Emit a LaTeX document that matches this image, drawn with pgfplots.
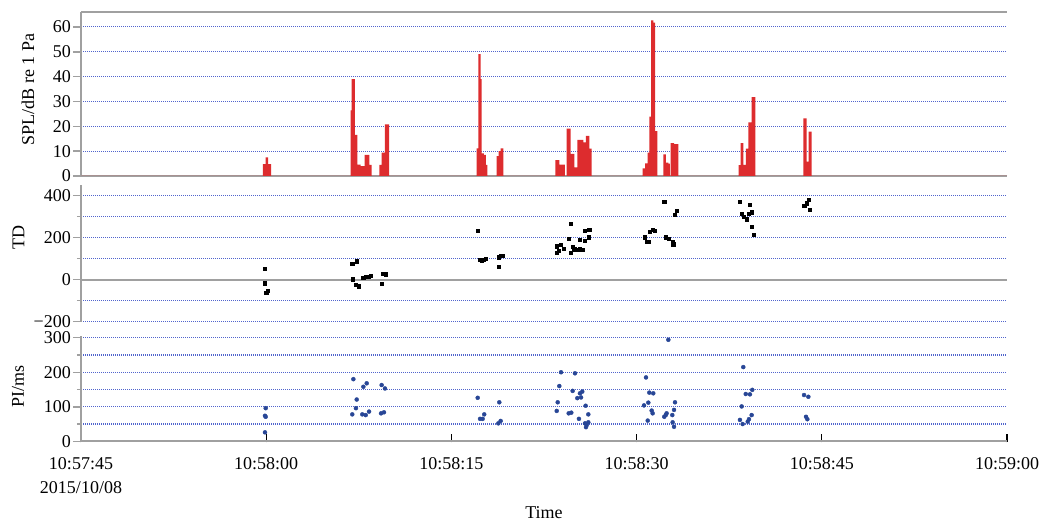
\documentclass[border=0pt]{standalone}
\usepackage{fontspec}
\setmainfont{Liberation Serif}
\usepackage{pgfplots}
\pgfplotsset{compat=1.18}

\definecolor{axisgray}{RGB}{160,160,160}
\definecolor{gridblue}{RGB}{80,100,205}
\definecolor{barred}{RGB}{221,44,46}
\definecolor{dotblue}{RGB}{40,70,150}

\pgfplotsset{
  panel/.style={
    scale only axis, width=926pt, xmin=0, xmax=75,
    axis y line=left,
    axis line style={axisgray, line width=2pt, -},
    major tick length=8pt, minor tick length=4pt,
    tick style={axisgray, line width=1.5pt},
    ymajorgrids, yminorgrids,
    major grid style={gridblue, line width=1.1pt, dash pattern=on 1pt off 1pt},
    minor grid style={gridblue, line width=1.1pt, dash pattern=on 1pt off 1pt},
    tick label style={font=\fontsize{18}{21}\selectfont},
    label style={font=\fontsize{18}{21}\selectfont},
    yticklabel style={inner sep=2pt},
    /pgf/number format/assume math mode=true,
    ylabel style={anchor=center},
  }
}

\begin{document}
\begin{tikzpicture}[font=\fontsize{18}{21}\selectfont]
\useasboundingbox (0,0) rectangle (1041pt,520pt);

% SPL
\begin{axis}[panel, at={(81pt,344pt)}, anchor=south west, height=164pt,
  ymin=0, ymax=66, axis x line=box, xtick=\empty, tick align=outside,
  ytick={0,10,...,60}, yticklabels={0,10,20,30,40,50,60},
  ylabel={SPL/dB re 1 Pa},
  ylabel style={at={(axis description cs:-0.0572,0.527)}}]
\addplot[const plot, fill=barred, draw=none] coordinates {
  (0,0)
  (14.74,4.8) (14.96,7.5) (15.15,4.8) (15.39,0)
  (21.84,26.4) (21.92,39) (22.19,16.6) (22.38,4.6) (22.65,4) (22.98,8.5) (23.35,4.5) (23.54,0)
  (24.16,4.5) (24.35,9.4) (24.62,20.8) (24.95,0)
  (32.05,11.1) (32.18,49) (32.37,39) (32.45,9.1) (32.64,8.5) (32.80,4.5) (32.91,0)
  (33.67,8) (33.83,10) (33.99,11.1) (34.20,0)
  (38.42,6.4) (38.74,4.6) (39.20,0) (39.34,19.1) (39.66,8.9) (39.95,3.5) (40.20,14.5) (40.68,13.5) (40.90,16.1) (41.17,11) (41.36,0)
  (45.49,3.1) (45.68,5.1) (45.90,9.4) (46.03,23.9) (46.17,62.6) (46.35,61.7) (46.49,18.1) (46.68,0)
  (47.16,8.7) (47.38,5.4) (47.57,5) (47.70,0) (47.76,13.2) (48.03,12.8) (48.38,0)
  (53.27,4.4) (53.43,13.2) (53.64,4.5) (53.84,11) (54.05,21.6) (54.32,31.7) (54.61,0)
  (58.50,23.2) (58.77,5.8) (58.94,17.9) (59.18,0)
  (75,0)
} \closedcycle;
\end{axis}

% TD
\begin{axis}[panel, at={(81pt,198.3pt)}, anchor=south west, height=136.5pt,
  ymin=-200, ymax=450, axis x line=none, xtick=\empty, tick align=outside,
  ytick={-200,200,400}, yticklabels={−200,200,400},
  minor ytick={-100,100,300},
  extra y ticks={0}, extra y tick labels={0},
  extra y tick style={grid=major, major grid style={solid, axisgray, line width=2pt}},
  ylabel={TD},
  ylabel style={at={(axis description cs:-0.0675,0.62)}}]
\addplot[only marks, mark=square*, mark size=1.6pt, black] coordinates {
  (14.90,54) (14.90,-17) (15.1,-54) (15.0,-60)
  (21.97,75) (22.33,88) (22.01,2) (22.25,-22) (22.46,-31) (22.86,10) (23.08,14) (23.27,16) (23.46,18) (24.35,-19) (24.48,27) (24.70,26)
  (32.13,233) (32.32,97) (32.48,92) (32.64,97) (32.80,99) (33.80,62) (33.80,107) (33.99,113) (34.12,114)
  (38.53,129) (38.69,138) (38.53,160) (38.88,165) (39.10,146) (39.50,197) (39.66,265) (39.66,129) (39.82,157) (39.95,145) (40.15,141) (40.36,145) (40.63,141) (40.41,192) (40.82,186) (40.82,233) (41.09,237) (41.22,240) (41.09,202)
  (45.68,202) (45.82,181) (45.95,181) (46.08,229) (46.30,237) (46.49,232) (47.24,371) (47.38,202) (47.57,197) (47.92,181) (47.97,169) (48.11,311) (48.25,327)
  (53.37,370) (54.13,356) (53.51,316) (53.70,300) (53.92,288) (54.10,316) (54.32,321) (54.32,252) (54.51,213)
  (58.91,380) (58.77,364) (58.58,351) (59.04,332)
};
\end{axis}

% PI
\begin{axis}[panel, at={(81pt,78.7pt)}, anchor=south west, height=105.3pt,
  ymin=0, ymax=305, axis x line=bottom, x axis line style={-}, tick align=outside,
  xtick={0,15,...,75},
  xticklabels={{10:57:45\\2015/10/08},10:58:00,10:58:15,10:58:30,10:58:45,10:59:00},
  xticklabel style={align=center, font=\fontsize{18}{23.5}\selectfont, yshift=-5pt},
  xtick style={black, line width=1.2pt, yshift=7pt},
  ytick={0,100,200,300}, yticklabels={0,100,200,300},
  minor ytick={50,150,250},
  ylabel={PI/ms},
  ylabel style={at={(axis description cs:-0.068,0.517)}},
  xlabel={Time},
  xlabel style={at={(axis description cs:0.5,0)}, anchor=center, yshift=-71pt}]
\addplot[only marks, mark=*, mark size=2pt, dotblue] coordinates {
  (14.96,96) (14.90,74) (14.96,71) (14.90,26)
  (22.06,180) (22.33,121) (22.27,96) (21.97,78) (22.87,158) (23.14,168) (22.78,78) (23.06,76) (23.33,86) (24.35,163) (24.62,153) (24.30,81) (24.54,84)
  (32.13,126) (32.32,65) (32.53,65) (32.66,78) (33.88,113) (33.80,52) (33.99,59)
  (38.88,200) (38.74,160) (38.61,113) (38.53,88) (40.01,197) (39.82,146) (40.41,139) (40.60,144) (40.20,125) (40.50,127) (40.87,103) (39.50,81) (39.71,83) (41.09,78) (40.33,65) (40.82,52) (40.96,47) (41.09,55) (40.90,41)
  (45.76,185) (46.03,141) (46.35,139) (45.60,104) (45.95,112) (46.22,89) (46.30,81) (45.90,60) (47.24,71) (47.43,81) (47.36,76) (47.89,76) (48.03,91) (48.11,113) (47.92,55) (48.03,42) (47.57,294)
  (53.64,215) (53.84,137) (54.18,136) (54.37,149) (53.51,101) (54.32,76) (53.37,62) (53.59,50) (54.00,57) (54.10,64)
  (58.56,134) (58.91,129) (58.72,71) (58.83,64)
};
\end{axis}
\end{tikzpicture}
\end{document}
